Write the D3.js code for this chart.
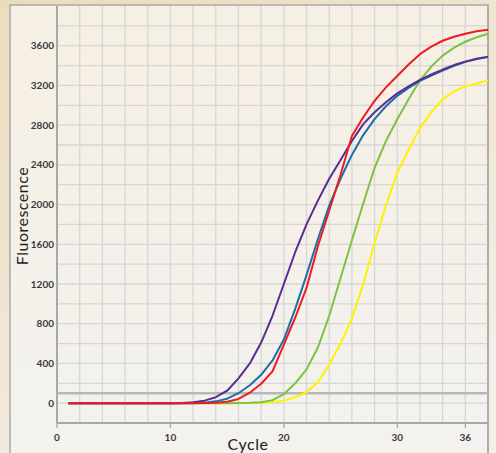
<!DOCTYPE html>
<html>
<head>
<meta charset="utf-8">
<script src="https://d3js.org/d3.v7.min.js"></script>
<style>
  body { margin: 0; background: #f2ebde; }
  svg { display: block; }
  .tick-label { font-family: Lato, sans-serif; font-size: 10px; font-weight: bold; fill: #3a3a3a; }
  .axis-title { font-family: Lato, sans-serif; font-size: 16px; fill: #222; text-anchor: middle; letter-spacing: 0.5px; }
</style>
</head>
<body>
<div id="chart"></div>
<script>
// cycles 1..38
const cycles = d3.range(1, 39);

// fluorescence per cycle
const purple = [0,0,0,0,0,0,0,0,0,0,2,8,25,60,125,250,400,610,880,1200,1520,1800,2040,2260,2450,2640,2810,2930,3030,3120,3190,3255,3310,3360,3405,3440,3468,3490];
const blue   = [0,0,0,0,0,0,0,0,0,0,0,2,5,18,45,100,180,285,430,640,950,1290,1650,1990,2260,2500,2700,2860,2990,3095,3175,3245,3300,3350,3398,3438,3465,3485];
const red    = [0,0,0,0,0,0,0,0,0,0,0,0,1,4,14,42,105,195,320,590,860,1160,1580,1940,2300,2690,2880,3045,3180,3295,3410,3515,3590,3650,3690,3720,3745,3760];
const green  = [0,0,0,0,0,0,0,0,0,0,0,0,0,0,0,1,3,8,30,90,200,340,560,880,1260,1640,2010,2370,2640,2860,3060,3250,3390,3500,3580,3640,3685,3720];
const yellow = [0,0,0,0,0,0,0,0,0,0,0,0,0,0,0,0,1,3,10,25,60,110,210,390,600,850,1200,1610,1990,2320,2550,2770,2930,3060,3140,3190,3220,3250];

const seriesNames = ["yellow", "green", "blue", "purple", "red"];
const seriesValues = [yellow, green, blue, purple, red];
const seriesColors = ["#fff200", "#7dc242", "#1d6fa5", "#5a2d91", "#ed1c24"];

const xTicks = [0, 10, 20, 30, 36];
const yTicks = [0, 400, 800, 1200, 1600, 2000, 2400, 2800, 3200, 3600];
const threshold = 100;

const W = 496, H = 453;
const plot = { left: 57, right: 488, top: 6, bottom: 423 };

const svg = d3.select("#chart").append("svg")
  .attr("width", W).attr("height", H);

const defs = svg.append("defs");
const bg = defs.append("linearGradient").attr("id", "bg")
  .attr("x1", 0).attr("y1", 0).attr("x2", 0.6).attr("y2", 1);
bg.append("stop").attr("offset", "0%").attr("stop-color", "#ecdcbd");
bg.append("stop").attr("offset", "100%").attr("stop-color", "#f3eee6");
const panel = defs.append("linearGradient").attr("id", "panel")
  .attr("x1", 0).attr("y1", 0).attr("x2", 0).attr("y2", 1);
panel.append("stop").attr("offset", "0%").attr("stop-color", "#f6efe3");
panel.append("stop").attr("offset", "100%").attr("stop-color", "#f3f2ef");

svg.append("rect").attr("width", W).attr("height", H).attr("fill", "url(#bg)");
svg.append("rect")
  .attr("x", 10).attr("y", 5).attr("width", plot.right - 10).attr("height", H)
  .attr("fill", "url(#panel)").attr("stroke", "#a9a9a9").attr("stroke-width", 1.5);

const x = d3.scaleLinear().domain([0, 38]).range([plot.left, plot.right]);
const y = d3.scaleLinear().domain([-200, 4000]).range([plot.bottom, plot.top]);

// grid
const grid = svg.append("g");
grid.selectAll(".vg").data(d3.range(2, 38, 2)).join("line")
  .attr("x1", d => x(d)).attr("x2", d => x(d))
  .attr("y1", plot.top).attr("y2", plot.bottom)
  .attr("stroke", "#d6d6d6").attr("stroke-width", 1.3);
grid.selectAll(".hg").data(d3.range(0, 4000, 200)).join("line")
  .attr("x1", plot.left).attr("x2", plot.right)
  .attr("y1", d => y(d)).attr("y2", d => y(d))
  .attr("stroke", "#d6d6d6").attr("stroke-width", 1.3);

// axes frame
svg.append("line").attr("x1", plot.left).attr("x2", plot.left).attr("y1", plot.top).attr("y2", plot.bottom)
  .attr("stroke", "#a8a8a8").attr("stroke-width", 2);
svg.append("line").attr("x1", plot.left).attr("x2", plot.right).attr("y1", plot.bottom).attr("y2", plot.bottom)
  .attr("stroke", "#a8a8a8").attr("stroke-width", 2);
svg.append("line").attr("x1", plot.right).attr("x2", plot.right).attr("y1", 5).attr("y2", H)
  .attr("stroke", "#a9a9a9").attr("stroke-width", 1.5);

// threshold
svg.append("line").attr("x1", plot.left).attr("x2", plot.right)
  .attr("y1", y(threshold)).attr("y2", y(threshold))
  .attr("stroke", "#b7b7b7").attr("stroke-width", 2.5);

// x axis ticks + labels
const xa = svg.append("g");
xa.selectAll("line").data(xTicks).join("line")
  .attr("x1", d => x(d)).attr("x2", d => x(d))
  .attr("y1", plot.bottom).attr("y2", plot.bottom + 5)
  .attr("stroke", "#a8a8a8").attr("stroke-width", 1.3);
xa.selectAll("text").data(xTicks).join("text")
  .attr("class", "tick-label")
  .attr("x", d => x(d)).attr("y", 441)
  .attr("text-anchor", "middle")
  .text(d => d);

// y labels
svg.append("g").selectAll("text").data(yTicks).join("text")
  .attr("class", "tick-label")
  .attr("x", 54).attr("y", d => y(d)).attr("dy", "0.35em")
  .attr("text-anchor", "end")
  .text(d => d);

// curves
const line = d3.line().x((d, i) => x(cycles[i])).y(d => y(d));
svg.append("g").selectAll("path").data(seriesValues).join("path")
  .attr("d", d => line(d))
  .attr("fill", "none")
  .attr("stroke", (d, i) => seriesColors[i])
  .attr("stroke-width", 2)
  .attr("stroke-linejoin", "round");

// titles
svg.append("text").attr("class", "axis-title")
  .attr("transform", "translate(28,216) rotate(-90)")
  .text("Fluorescence");
svg.append("text").attr("class", "axis-title")
  .attr("x", 248).attr("y", 450)
  .text("Cycle");
</script>
</body>
</html>
